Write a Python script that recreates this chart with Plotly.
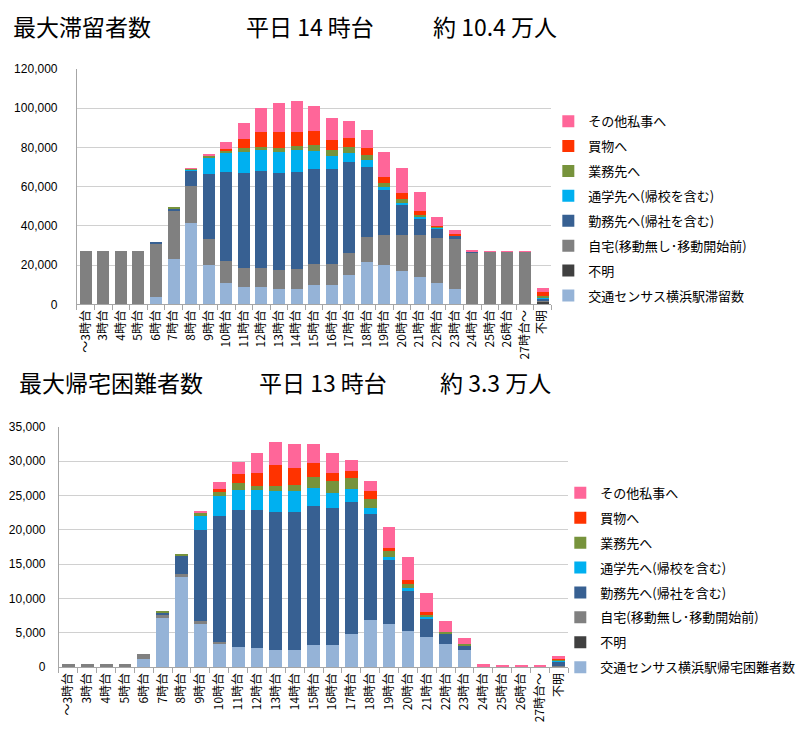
import plotly.graph_objects as go

categories = ["～3時台", "3時台", "4時台", "5時台", "6時台", "7時台", "8時台", "9時台",
              "10時台", "11時台", "12時台", "13時台", "14時台", "15時台", "16時台", "17時台",
              "18時台", "19時台", "20時台", "21時台", "22時台", "23時台", "24時台", "25時台",
              "26時台", "27時台～", "不明"]

series_names = ["交通センサス横浜駅滞留数", "不明", "自宅(移動無し･移動開始前)", "勤務先へ(帰社を含む)",
                "通学先へ(帰校を含む)", "業務先へ", "買物へ", "その他私事へ"]
series_names_b = ["交通センサス横浜駅帰宅困難者数", "不明", "自宅(移動無し･移動開始前)", "勤務先へ(帰社を含む)",
                  "通学先へ(帰校を含む)", "業務先へ", "買物へ", "その他私事へ"]
colors = ["#95B3D7", "#404040", "#808080", "#376092", "#00B0F0", "#77933C", "#FF3300", "#FF6699"]

# --- 最大滞留者数 (top chart) ---
top_census = [0, 0, 0, 0, 3900, 23000, 41700, 20000, 11000, 9000, 9000, 7850, 7850, 9650, 9650, 15000,
              21700, 20000, 17000, 14000, 11000, 7850, 0, 0, 0, 0, 0]
top_unknown = [0, 0, 0, 0, 0, 0, 0, 0, 0, 0, 0, 0, 0, 0, 0, 0, 0, 0, 0, 0, 0, 0, 0, 0, 0, 0, 1300]
top_home = [27200, 27200, 27200, 27200, 27000, 24500, 18800, 13350, 10850, 9500, 9500, 9650, 10350, 10700,
            10700, 11200, 12500, 15500, 18350, 21350, 23000, 25500, 26350, 26700, 26700, 26700, 600]
top_work = [0, 0, 0, 0, 500, 1300, 7500, 33150, 45500, 48500, 49700, 49500, 49500, 48650, 48500, 46300,
            35800, 22700, 15150, 8350, 4700, 2000, 650, 0, 0, 0, 1000]
top_school = [0, 0, 0, 0, 0, 0, 850, 8500, 10150, 10850, 10500, 10850, 11000, 9000, 7000, 4700, 3350,
              1500, 1350, 800, 300, 0, 0, 0, 0, 0, 400]
top_business = [0, 0, 0, 0, 0, 400, 300, 700, 850, 1850, 1650, 1850, 2150, 3000, 3000, 3000, 2650, 2000,
                1850, 1200, 500, 0, 0, 0, 0, 0, 800]
top_shopping = [0, 0, 0, 0, 0, 0, 0, 0, 850, 4800, 7500, 8150, 7000, 7500, 5150, 4800, 3500, 3150, 3000,
                1650, 200, 300, 0, 0, 0, 0, 2000]
top_other = [0, 0, 0, 0, 0, 0, 300, 1100, 3650, 8000, 12000, 14650, 15850, 12700, 10850, 8350, 9200,
             12650, 12650, 10150, 5000, 2350, 850, 500, 500, 500, 2000]

# --- 最大帰宅困難者数 (bottom chart) ---
bot_census = [0, 0, 0, 0, 1250, 7190, 13140, 6290, 3520, 2950, 2860, 2520, 2520, 3190, 3190, 4760, 6900,
              6330, 5330, 4380, 3430, 2570, 0, 0, 0, 0, 0]
bot_unknown = [0, 0, 0, 0, 0, 0, 0, 0, 0, 0, 0, 0, 0, 0, 0, 0, 0, 0, 0, 0, 0, 0, 0, 0, 0, 0, 150]
bot_home = [480, 480, 480, 480, 600, 470, 480, 420, 90, 0, 0, 0, 0, 0, 0, 0, 0, 0, 0, 0, 0, 0, 0, 0, 0,
            0, 50]
bot_work = [0, 0, 0, 0, 0, 290, 2520, 13240, 18480, 19900, 20000, 20150, 20100, 20240, 20000, 19330,
            15480, 9290, 5810, 2620, 1520, 670, 0, 0, 0, 0, 600]
bot_school = [0, 0, 0, 0, 0, 0, 0, 2140, 2910, 3000, 2900, 2950, 3000, 2710, 2240, 1810, 810, 380, 380,
              330, 0, 0, 0, 0, 0, 0, 120]
bot_business = [0, 0, 0, 0, 0, 150, 330, 380, 570, 1000, 570, 810, 950, 1570, 1710, 1620, 1330, 950, 570,
                290, 150, 140, 0, 0, 0, 0, 150]
bot_shopping = [0, 0, 0, 0, 0, 0, 0, 0, 330, 1230, 2000, 2950, 2430, 2000, 1150, 1000, 1100, 480, 570,
                480, 0, 0, 0, 0, 0, 0, 250]
bot_other = [0, 0, 0, 0, 0, 0, 0, 330, 1100, 1770, 2810, 3430, 3570, 2760, 2900, 1720, 1520, 3040, 3380,
             2720, 1570, 810, 480, 250, 250, 250, 250]

top_series = [top_census, top_unknown, top_home, top_work, top_school, top_business, top_shopping, top_other]
bot_series = [bot_census, bot_unknown, bot_home, bot_work, bot_school, bot_business, bot_shopping, bot_other]

FONT = "Liberation Sans, Noto Sans CJK JP, sans-serif"
JFONT = "Noto Sans CJK JP, sans-serif"

fig = go.Figure()
n = len(series_names)
for i, (name, col, vals) in enumerate(zip(series_names, colors, top_series)):
    fig.add_trace(go.Bar(x=categories, y=vals, name=name, marker_color=col, marker_line_width=0,
                         xaxis="x", yaxis="y", legend="legend", legendgroup="t%d" % i,
                         legendrank=n - i))
for i, (name, col, vals) in enumerate(zip(series_names_b, colors, bot_series)):
    fig.add_trace(go.Bar(x=categories, y=vals, name=name, marker_color=col, marker_line_width=0,
                         xaxis="x2", yaxis="y2", legend="legend2", legendgroup="b%d" % i,
                         legendrank=n - i))

# page is 806x733; the html body adds an 8px margin, so the figure is 798x725
OFF = 8
W, H = 806 - OFF, 733 - OFF


def px(x):
    return (x - OFF) / W


def py(y):
    return 1 - (y - OFF) / H


xcommon = dict(type="category", showline=True, linecolor="#A6A6A6", linewidth=1, ticks="outside",
               tickson="boundaries", ticklen=5, tickcolor="#A6A6A6", tickangle=-90,
               tickfont=dict(family=JFONT, size=12, color="#000000"), showgrid=False)
ycommon = dict(showline=True, linecolor="#A6A6A6", linewidth=1, showgrid=True, gridcolor="#D0D0D0",
               gridwidth=1, tickformat=",", tickfont=dict(family=FONT, size=12, color="#000000"),
               ticks="", zeroline=False)

fig.update_layout(
    width=W, height=H, margin=dict(l=0, r=0, t=0, b=0),
    paper_bgcolor="white", plot_bgcolor="white",
    barmode="stack", bargap=0.32,
    font=dict(family=FONT, color="#000000"),
    xaxis=dict(domain=[px(76), px(551)], anchor="y", **xcommon),
    yaxis=dict(domain=[py(303), py(63)], anchor="x", range=[0, 120000], dtick=20000,
               ticklabelstandoff=16, **ycommon),
    xaxis2=dict(domain=[px(58), px(568)], anchor="y2", **xcommon),
    yaxis2=dict(domain=[py(673), py(428)], anchor="x2", range=[0, 35000], dtick=5000,
                ticklabelstandoff=10, **ycommon),
    legend=dict(x=px(548), y=py(101), xanchor="left", yanchor="top", traceorder="grouped",
                tracegroupgap=5, font=dict(family=JFONT, size=13, color="#000000"),
                bgcolor="rgba(0,0,0,0)"),
    legend2=dict(x=px(560), y=py(480), xanchor="left", yanchor="top", traceorder="grouped",
                 tracegroupgap=5, font=dict(family=JFONT, size=13, color="#000000"),
                 bgcolor="rgba(0,0,0,0)"),
)

titles = [
    ("最大滞留者数", 10, 19), ("平日 14 時台", 243, 19), ("約 10.4 万人", 431, 19),
    ("最大帰宅困難者数", 16, 382), ("平日 13 時台", 256, 382), ("約 3.3 万人", 438, 382),
]
for text, x, y in titles:
    fig.add_annotation(text=text, x=px(x), y=py(y), xref="paper", yref="paper", xanchor="left",
                       yanchor="middle", showarrow=False,
                       font=dict(family=JFONT, size=23, color="#000000"))

fig.write_html("out.html")
